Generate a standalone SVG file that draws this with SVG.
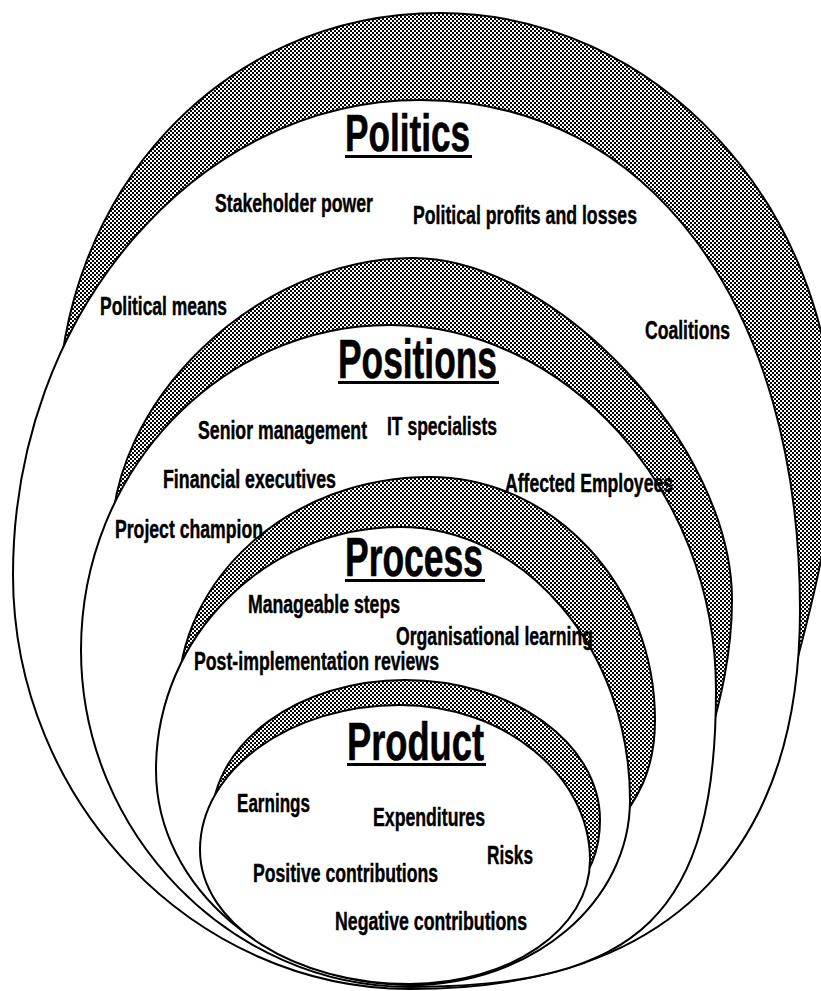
<svg xmlns="http://www.w3.org/2000/svg" width="821" height="991" viewBox="0 0 821 991">
  <defs>
    <!-- coarse black/white dither used for every crescent band -->
    <pattern id="dither" width="4" height="4" patternUnits="userSpaceOnUse">
      <rect width="4" height="4" fill="#fff"/>
      <rect width="2" height="2" fill="#000"/>
      <rect x="2" y="2" width="2" height="2" fill="#000"/>
    </pattern>
  </defs>
  <style>
    .band { fill: url(#dither); stroke: #000; stroke-width: 2; stroke-linejoin: round; }
    .core { fill: #fff; stroke: #000; stroke-width: 2; }
    .title { font-family: "Liberation Sans", Arial, sans-serif; font-weight: bold; fill: #000; stroke: #000; stroke-width: 0.6; }
    .item { font-family: "Liberation Sans", Arial, sans-serif; font-weight: bold; font-size: 26px; fill: #000; stroke: #000; stroke-width: 0.45; }
    .rule { fill: #000; }
  </style>

  <rect width="821" height="991" fill="#fff"/>

  <!-- outermost ring -->
  <g id="politics">
    <path class="band" d="M 58,418 C 58,195 220,13 440,13 C 655,13 834,205 834,440 C 834,520 814,600 785,705 L 420,620 Z"/>
    <path class="core" d="M 420,100 C 648,100 800,304 800,610 C 800,837 685,989 410,989 C 195,989 13,802 13,575 C 13,314 196,100 420,100 Z"/>
  </g>

  <!-- second ring -->
  <g id="positions">
    <path class="band" d="M 112,545 C 107,405 255,258 413,258 C 556,258 732,446 732,600 C 732,650 722,700 700,770 L 400,700 Z"/>
    <path class="core" d="M 390,325 C 565,325 716,489 716,690 C 716,912 642,987 410,987 C 232,987 81,835 81,650 C 81,471 220,325 390,325 Z"/>
  </g>

  <!-- third ring -->
  <g id="process">
    <path class="band" d="M 178,700 C 178,577 291,477 430,477 C 553,477 655,586 655,720 C 655,770 638,800 612,830 L 400,760 Z"/>
    <path class="core" d="M 400,527 C 525,527 630,650 630,800 C 630,902 533,985 410,985 C 272,985 156,889 156,770 C 156,636 266,527 400,527 Z"/>
  </g>

  <!-- innermost ring -->
  <g id="product">
    <path class="band" d="M 212,820 C 212,743 299,680 405,680 C 512,680 600,743 600,820 C 600,850 590,875 570,895 L 400,850 Z"/>
    <path class="core" d="M 400,705 C 504,705 590,775 590,860 C 590,929 510,984 410,984 C 296,984 200,925 200,850 C 200,770 290,705 400,705 Z"/>
  </g>

  <!-- labels sit above all rings so they can run over the bands;
       each is squeezed horizontally to a condensed face -->
  <g id="labels">
    <g id="politics-labels">
      <text class="title" transform="translate(345 151) scale(0.66 1)" font-size="51" textLength="189.4" lengthAdjust="spacingAndGlyphs">Politics</text>
      <rect class="rule" x="345" y="155" width="127" height="3"/>
      <text class="item" transform="translate(215 212) scale(0.66 1)" textLength="239.4" lengthAdjust="spacingAndGlyphs">Stakeholder power</text>
      <text class="item" transform="translate(413 224) scale(0.66 1)" textLength="339.4" lengthAdjust="spacingAndGlyphs">Political profits and losses</text>
      <text class="item" transform="translate(100 315) scale(0.66 1)" textLength="192.4" lengthAdjust="spacingAndGlyphs">Political means</text>
      <text class="item" transform="translate(645 339) scale(0.66 1)" textLength="128.8" lengthAdjust="spacingAndGlyphs">Coalitions</text>
    </g>
    <g id="positions-labels">
      <text class="title" transform="translate(338 378) scale(0.66 1)" font-size="55" textLength="240.9" lengthAdjust="spacingAndGlyphs">Positions</text>
      <rect class="rule" x="338" y="381" width="161" height="3"/>
      <text class="item" transform="translate(198 439) scale(0.66 1)" textLength="256.1" lengthAdjust="spacingAndGlyphs">Senior management</text>
      <text class="item" transform="translate(387 435) scale(0.66 1)" textLength="166.7" lengthAdjust="spacingAndGlyphs">IT specialists</text>
      <text class="item" transform="translate(163 488) scale(0.66 1)" textLength="262.1" lengthAdjust="spacingAndGlyphs">Financial executives</text>
      <text class="item" transform="translate(505 492) scale(0.66 1)" textLength="254.5" lengthAdjust="spacingAndGlyphs">Affected Employees</text>
      <text class="item" transform="translate(115 538) scale(0.66 1)" textLength="224.2" lengthAdjust="spacingAndGlyphs">Project champion</text>
    </g>
    <g id="process-labels">
      <text class="title" transform="translate(345 576) scale(0.66 1)" font-size="55" textLength="209.1" lengthAdjust="spacingAndGlyphs">Process</text>
      <rect class="rule" x="345" y="579" width="140" height="3"/>
      <text class="item" transform="translate(248 613) scale(0.66 1)" textLength="230.3" lengthAdjust="spacingAndGlyphs">Manageable steps</text>
      <text class="item" transform="translate(396 645) scale(0.66 1)" textLength="298.5" lengthAdjust="spacingAndGlyphs">Organisational learning</text>
      <text class="item" transform="translate(194 670) scale(0.66 1)" textLength="371.2" lengthAdjust="spacingAndGlyphs">Post-implementation reviews</text>
    </g>
    <g id="product-labels">
      <text class="title" transform="translate(347 760) scale(0.66 1)" font-size="53" textLength="207.6" lengthAdjust="spacingAndGlyphs">Product</text>
      <rect class="rule" x="347" y="763" width="139" height="3"/>
      <text class="item" transform="translate(237 812) scale(0.66 1)" textLength="110.6" lengthAdjust="spacingAndGlyphs">Earnings</text>
      <text class="item" transform="translate(373 826) scale(0.66 1)" textLength="169.7" lengthAdjust="spacingAndGlyphs">Expenditures</text>
      <text class="item" transform="translate(487 864) scale(0.66 1)" textLength="69.7" lengthAdjust="spacingAndGlyphs">Risks</text>
      <text class="item" transform="translate(253 882) scale(0.66 1)" textLength="280.3" lengthAdjust="spacingAndGlyphs">Positive contributions</text>
      <text class="item" transform="translate(335 930) scale(0.66 1)" textLength="290.9" lengthAdjust="spacingAndGlyphs">Negative contributions</text>
    </g>
  </g>
</svg>
